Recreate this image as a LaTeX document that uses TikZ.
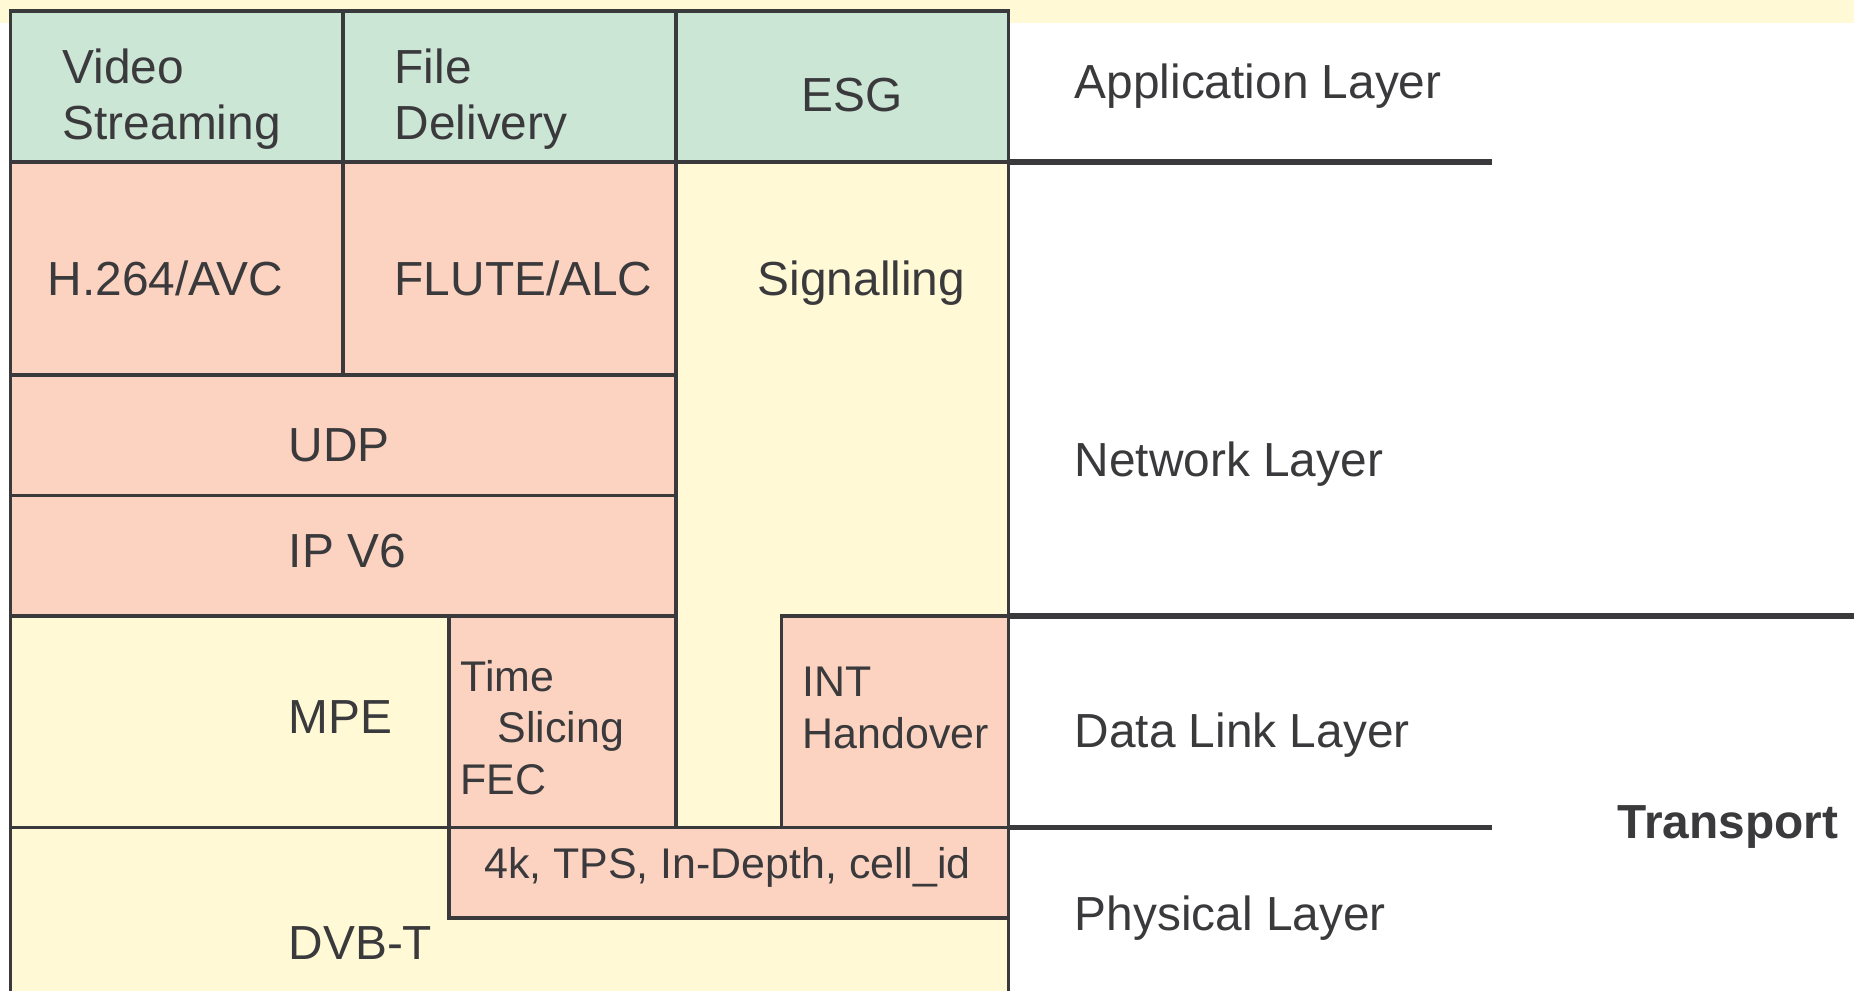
\documentclass[tikz,border=0pt]{standalone}
\usepackage{fontspec}
\setmainfont{Liberation Sans}
\usetikzlibrary{fit}
\definecolor{ink}{HTML}{3A3A3D}
\definecolor{appgreen}{HTML}{CCE6D6}
\definecolor{protosalmon}{HTML}{FCD3C1}
\definecolor{baseyellow}{HTML}{FFF9D6}
\newcommand{\stackfont}{\fontsize{13.6pt}{16.2pt}\selectfont}
\newcommand{\stacksmall}{\fontsize{12.2pt}{14.6pt}\selectfont}
\tikzset{
  cell/.style={
    rectangle,
    draw=ink,
    line width=1pt,
    inner sep=0pt,
    outer sep=0pt
  },
  appcell/.style={cell, fill=appgreen},
  protocell/.style={cell, fill=protosalmon},
  basecell/.style={cell, fill=baseyellow},
  celltext/.style={
    anchor=base west,
    inner sep=0pt,
    align=left,
    text=ink,
    font=\stackfont
  },
  smalltext/.style={celltext, font=\stacksmall},
  sepline/.style={draw=ink, line width=1.6pt}
}

\begin{document}
\begin{tikzpicture}[x=0.01cm, y=-0.01cm]
  \useasboundingbox (0,0) rectangle (1854,991);
  \fill[baseyellow] (0,0) rectangle (1854,22.7);

  % application row
  \node[appcell, fit={(10.5,11) (343,162)}] (video) {};
  \node[appcell, fit={(343,11) (676,162)}] (file) {};
  \node[appcell, fit={(676,11) (1008.5,162)}] (esg) {};

  % network part
  \node[protocell, fit={(10.5,162) (343,375)}] (h264) {};
  \node[protocell, fit={(343,162) (676,375)}] (flute) {};
  \node[protocell, fit={(10.5,375) (676,495.5)}] (udp) {};
  \node[protocell, fit={(10.5,495.5) (676,616)}] (ipv6) {};
  \filldraw[fill=baseyellow, draw=ink, line width=1pt]
    (676,162) -- (1008.5,162) -- (1008.5,616) -- (781.5,616)
    -- (781.5,827.5) -- (676,827.5) -- cycle;

  % data link and physical
  \node[basecell, fit={(10.5,616) (449,827.5)}] (mpe) {};
  \node[protocell, fit={(449,616) (676,827.5)}] (slicing) {};
  \node[protocell, fit={(781.5,616) (1008.5,827.5)}] (handover) {};
  \node[basecell, fit={(10.5,827.5) (1008.5,1000)}] (dvbt) {};
  \node[protocell, fit={(449,827.5) (1008.5,918)}] (cellid) {};

  % labels in the stack (base = last line)
  \node[celltext] (videolbl) at (62,140) {Video\\Streaming};
  \node[celltext] (filelbl) at (394,140) {File\\Delivery};
  \node[celltext, anchor=base] (esglbl) at (852,112) {ESG};
  \node[celltext] (h264lbl) at (47,295) {H.264/AVC};
  \node[celltext] (flutelbl) at (394,295) {FLUTE/ALC};
  \node[celltext] (signallbl) at (757,295) {Signalling};
  \node[celltext] (udplbl) at (288,462) {UDP};
  \node[celltext] (ipv6lbl) at (288,567) {IP V6};
  \node[celltext] (mpelbl) at (288,733) {MPE};
  \node[smalltext] (slicinglbl) at (460,794) {Time\\\hspace*{0.37cm}Slicing\\FEC};
  \node[smalltext] (handoverlbl) at (802,748) {INT\\Handover};
  \node[smalltext] (cellidlbl) at (483.6,878) {4k, TPS, In-Depth, cell\_id};
  \node[celltext] (dvbtlbl) at (288,959) {DVB-T};

  % layer separators
  \coordinate (append) at (1492,162);
  \coordinate (netend) at (1854,616);
  \coordinate (linkend) at (1492,827.5);
  \draw[sepline] (esg.south east) -- (append);
  \draw[sepline] (handover.north east) -- (netend);
  \draw[sepline] (handover.south east) -- (linkend);

  % layer names
  \node[celltext] (applayer) at (1074,99) {Application Layer};
  \node[celltext] (netlayer) at (1074,476) {Network Layer};
  \node[celltext] (linklayer) at (1074,747) {Data Link Layer};
  \node[celltext] (phylayer) at (1074,930) {Physical Layer};
  \node[celltext, font=\stackfont\bfseries] (transport) at (1617,838) {Transport};
\end{tikzpicture}
\end{document}
